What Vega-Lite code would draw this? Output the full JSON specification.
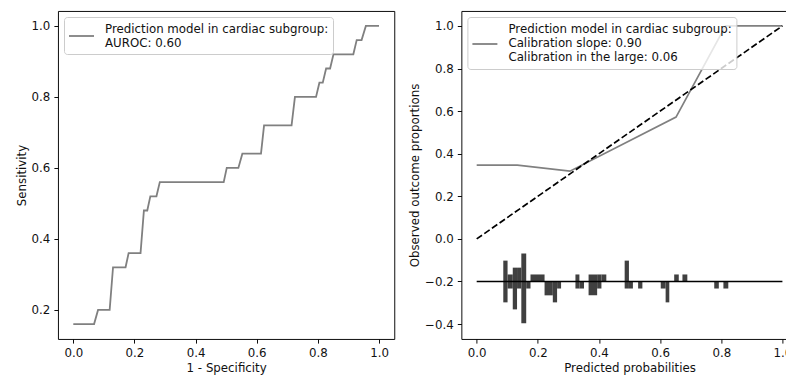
{
  "$schema": "https://vega.github.io/schema/vega-lite/v6.json",
  "padding": {"left": 15, "top": 10, "right": 0, "bottom": 2},
  "bounds": "flush",
  "spacing": 66.4,
  "config": {
    "font": "DejaVu Sans",
    "view": {"stroke": "#000", "strokeWidth": 0.95},
    "axis": {"domain": false, "grid": false, "tickColor": "#000", "tickSize": 4.1, "tickWidth": 0.95,
      "labelFont": "DejaVu Sans", "labelFontSize": 11.8, "labelColor": "#111", "labelPadding": 4.1,
      "titleFont": "DejaVu Sans", "titleFontSize": 11.8, "titleFontWeight": "normal", "titleColor": "#111",
      "labelFlush": false, "labelOverlap": false, "labelBound": false},
    "axisX": {"titlePadding": 3},
    "axisY": {"titlePadding": 4},
    "legend": {"orient": "top-left", "offset": 6, "padding": 4, "fillColor": "rgba(255,255,255,0.8)",
      "strokeColor": "#cccccc", "cornerRadius": 3, "symbolSize": 625, "symbolFillColor": "transparent",
      "symbolStrokeWidth": 1.8, "labelFont": "DejaVu Sans", "labelFontSize": 11.8, "labelColor": "#111",
      "labelOffset": 10, "labelLimit": 600}
  },
  "resolve": {"scale": {"stroke": "independent"}, "legend": {"stroke": "independent"}},
  "hconcat": [
    {
      "width": 336.3, "height": 328,
      "data": {"values": [
        {"fpr": 0.0, "tpr": 0.16}, {"fpr": 0.068, "tpr": 0.16}, {"fpr": 0.081, "tpr": 0.20}, {"fpr": 0.119, "tpr": 0.20},
        {"fpr": 0.130, "tpr": 0.32}, {"fpr": 0.171, "tpr": 0.32}, {"fpr": 0.181, "tpr": 0.36}, {"fpr": 0.220, "tpr": 0.36},
        {"fpr": 0.231, "tpr": 0.48}, {"fpr": 0.242, "tpr": 0.48}, {"fpr": 0.252, "tpr": 0.52}, {"fpr": 0.272, "tpr": 0.52},
        {"fpr": 0.283, "tpr": 0.56}, {"fpr": 0.492, "tpr": 0.56}, {"fpr": 0.502, "tpr": 0.60}, {"fpr": 0.540, "tpr": 0.60},
        {"fpr": 0.553, "tpr": 0.64}, {"fpr": 0.614, "tpr": 0.64}, {"fpr": 0.624, "tpr": 0.72}, {"fpr": 0.714, "tpr": 0.72},
        {"fpr": 0.725, "tpr": 0.80}, {"fpr": 0.794, "tpr": 0.80}, {"fpr": 0.805, "tpr": 0.84}, {"fpr": 0.816, "tpr": 0.84},
        {"fpr": 0.827, "tpr": 0.88}, {"fpr": 0.840, "tpr": 0.88}, {"fpr": 0.851, "tpr": 0.92}, {"fpr": 0.916, "tpr": 0.92},
        {"fpr": 0.927, "tpr": 0.96}, {"fpr": 0.943, "tpr": 0.96}, {"fpr": 0.957, "tpr": 1.0}, {"fpr": 1.0, "tpr": 1.0}
      ]},
      "mark": {"type": "line", "strokeWidth": 1.8},
      "encoding": {
        "x": {"field": "fpr", "type": "quantitative",
          "scale": {"domain": [-0.05, 1.05], "nice": false, "zero": false},
          "axis": {"values": [0, 0.2, 0.4, 0.6, 0.8, 1.0], "format": ".1f", "title": "1 - Specificity"}},
        "y": {"field": "tpr", "type": "quantitative",
          "scale": {"domain": [0.118, 1.042], "nice": false, "zero": false},
          "axis": {"values": [0.2, 0.4, 0.6, 0.8, 1.0], "format": ".1f", "title": "Sensitivity"}},
        "stroke": {"datum": "Prediction model in cardiac subgroup:|AUROC: 0.60", "type": "nominal",
          "scale": {"range": ["#808080"]},
          "legend": {"title": null, "symbolType": "M-1,0.12H1", "labelExpr": "split(datum.label, '|')",
            "encode": {"labels": {"update": {"lineHeight": {"value": 14.2}, "dy": {"value": -5.5}}}}}}
      }
    },
    {
      "width": 336.3, "height": 328,
      "layer": [
        {
          "data": {"values": [
            {"pred": 0.0, "obs": 0.346}, {"pred": 0.133, "obs": 0.346}, {"pred": 0.305, "obs": 0.318},
            {"pred": 0.652, "obs": 0.572}, {"pred": 0.814, "obs": 1.0}, {"pred": 1.0, "obs": 1.0}
          ]},
          "mark": {"type": "line", "strokeWidth": 1.7},
          "encoding": {
            "x": {"field": "pred", "type": "quantitative",
              "scale": {"domain": [-0.05, 1.05], "nice": false, "zero": false},
              "axis": {"values": [0, 0.2, 0.4, 0.6, 0.8, 1.0], "format": ".1f", "title": "Predicted probabilities"}},
            "y": {"field": "obs", "type": "quantitative",
              "scale": {"domain": [-0.47, 1.07], "nice": false, "zero": false},
              "axis": {"values": [-0.4, -0.2, 0, 0.2, 0.4, 0.6, 0.8, 1.0], "format": ".1f", "title": "Observed outcome proportions"}},
            "stroke": {"datum": "Prediction model in cardiac subgroup:|Calibration slope: 0.90|Calibration in the large: 0.06", "type": "nominal",
              "scale": {"range": ["#808080"]},
              "legend": {"title": null, "symbolType": "M-1,0.76H1", "labelExpr": "split(datum.label, '|')",
                "encode": {"labels": {"update": {"lineHeight": {"value": 14.2}, "dy": {"value": -5.5}}}}}}
          }
        },
        {
          "data": {"values": [{"pred": 0.0, "obs": 0.0}, {"pred": 1.0, "obs": 1.0}]},
          "mark": {"type": "line", "color": "#000", "strokeWidth": 1.7, "strokeDash": [6.5, 2.8]},
          "encoding": {
            "x": {"field": "pred", "type": "quantitative"},
            "y": {"field": "obs", "type": "quantitative"}
          }
        },
        {
          "data": {"values": [
            {"bin_start": 0.087, "bin_end": 0.101, "y_start": -0.2, "y_end": -0.102},
            {"bin_start": 0.087, "bin_end": 0.101, "y_start": -0.2, "y_end": -0.298},
            {"bin_start": 0.101, "bin_end": 0.118, "y_start": -0.2, "y_end": -0.167},
            {"bin_start": 0.101, "bin_end": 0.118, "y_start": -0.2, "y_end": -0.233},
            {"bin_start": 0.118, "bin_end": 0.132, "y_start": -0.2, "y_end": -0.135},
            {"bin_start": 0.118, "bin_end": 0.132, "y_start": -0.2, "y_end": -0.331},
            {"bin_start": 0.132, "bin_end": 0.146, "y_start": -0.2, "y_end": -0.135},
            {"bin_start": 0.132, "bin_end": 0.146, "y_start": -0.2, "y_end": -0.233},
            {"bin_start": 0.146, "bin_end": 0.162, "y_start": -0.2, "y_end": -0.069},
            {"bin_start": 0.146, "bin_end": 0.162, "y_start": -0.2, "y_end": -0.396},
            {"bin_start": 0.162, "bin_end": 0.176, "y_start": -0.2, "y_end": -0.233},
            {"bin_start": 0.176, "bin_end": 0.222, "y_start": -0.2, "y_end": -0.167},
            {"bin_start": 0.222, "bin_end": 0.249, "y_start": -0.2, "y_end": -0.265},
            {"bin_start": 0.249, "bin_end": 0.263, "y_start": -0.2, "y_end": -0.298},
            {"bin_start": 0.263, "bin_end": 0.276, "y_start": -0.2, "y_end": -0.233},
            {"bin_start": 0.323, "bin_end": 0.336, "y_start": -0.2, "y_end": -0.167},
            {"bin_start": 0.323, "bin_end": 0.336, "y_start": -0.2, "y_end": -0.233},
            {"bin_start": 0.336, "bin_end": 0.351, "y_start": -0.2, "y_end": -0.233},
            {"bin_start": 0.366, "bin_end": 0.394, "y_start": -0.2, "y_end": -0.167},
            {"bin_start": 0.366, "bin_end": 0.394, "y_start": -0.2, "y_end": -0.265},
            {"bin_start": 0.394, "bin_end": 0.408, "y_start": -0.2, "y_end": -0.167},
            {"bin_start": 0.394, "bin_end": 0.408, "y_start": -0.2, "y_end": -0.233},
            {"bin_start": 0.408, "bin_end": 0.424, "y_start": -0.2, "y_end": -0.167},
            {"bin_start": 0.484, "bin_end": 0.498, "y_start": -0.2, "y_end": -0.102},
            {"bin_start": 0.484, "bin_end": 0.498, "y_start": -0.2, "y_end": -0.233},
            {"bin_start": 0.498, "bin_end": 0.511, "y_start": -0.2, "y_end": -0.233},
            {"bin_start": 0.528, "bin_end": 0.542, "y_start": -0.2, "y_end": -0.233},
            {"bin_start": 0.602, "bin_end": 0.618, "y_start": -0.2, "y_end": -0.233},
            {"bin_start": 0.618, "bin_end": 0.630, "y_start": -0.2, "y_end": -0.298},
            {"bin_start": 0.646, "bin_end": 0.661, "y_start": -0.2, "y_end": -0.167},
            {"bin_start": 0.673, "bin_end": 0.689, "y_start": -0.2, "y_end": -0.167},
            {"bin_start": 0.777, "bin_end": 0.792, "y_start": -0.2, "y_end": -0.233},
            {"bin_start": 0.807, "bin_end": 0.823, "y_start": -0.2, "y_end": -0.233}
          ]},
          "mark": {"type": "rect", "color": "#404040"},
          "encoding": {
            "x": {"field": "bin_start", "type": "quantitative"},
            "x2": {"field": "bin_end"},
            "y": {"field": "y_start", "type": "quantitative"},
            "y2": {"field": "y_end"}
          }
        },
        {
          "data": {"values": [{"from": 0.0, "to": 1.0, "level": -0.2}]},
          "mark": {"type": "rule", "color": "#000", "strokeWidth": 1.7},
          "encoding": {
            "x": {"field": "from", "type": "quantitative"},
            "x2": {"field": "to"},
            "y": {"field": "level", "type": "quantitative"}
          }
        }
      ]
    }
  ]
}
